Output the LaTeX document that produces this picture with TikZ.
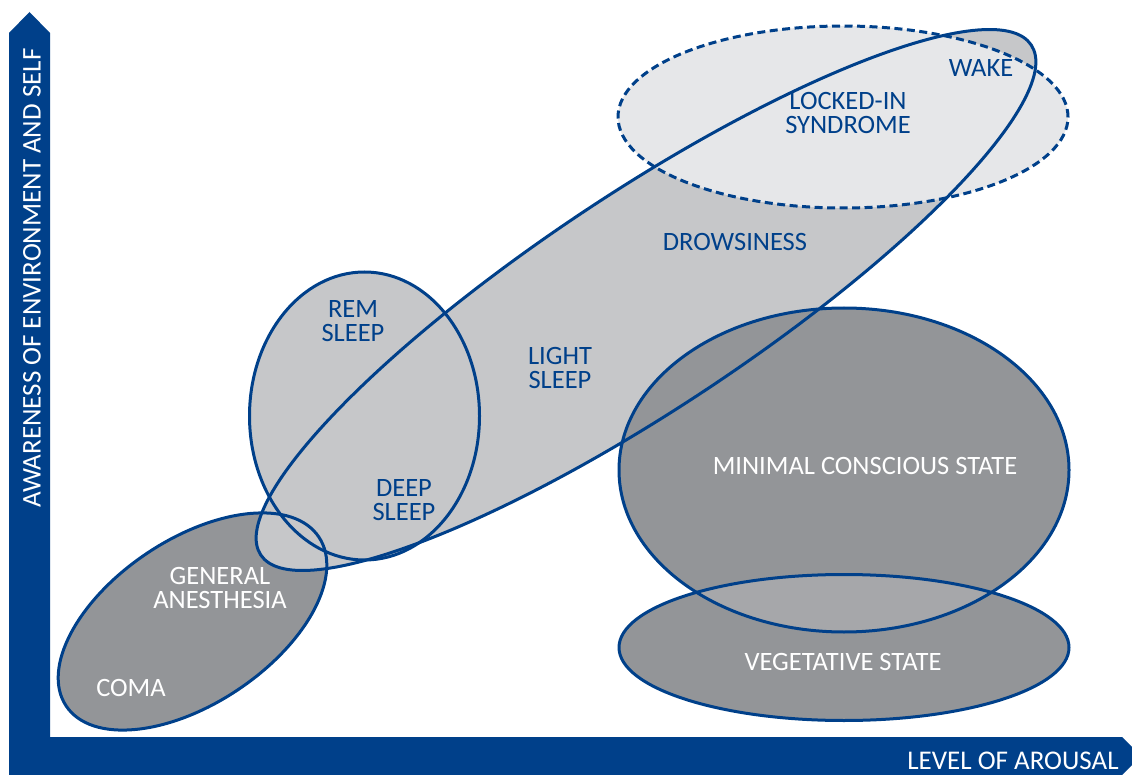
\documentclass[tikz,border=0pt]{standalone}
\usepackage{fontspec}
\setmainfont{Carlito}
\definecolor{navy}{HTML}{00408A}
\definecolor{lightfill}{HTML}{C6C7C9}
\definecolor{palefill}{HTML}{E6E7E9}
\definecolor{darkfill}{HTML}{939598}
\definecolor{midfill}{HTML}{A6A7AA}
\tikzset{
  outline/.style={draw=navy, line width=3pt},
  dashline/.style={draw=navy, line width=3pt, dash pattern=on 8pt off 4.5pt},
  lbl/.style={text=navy, align=center, font=\fontsize{26.5}{24}\selectfont, inner sep=0pt},
  wlbl/.style={text=white, align=center, font=\fontsize{26.5}{24}\selectfont, inner sep=0pt},
  axlbl/.style={text=white, font=\fontsize{27}{24}\selectfont, inner sep=0pt}
}
\begin{document}
\begin{tikzpicture}[x=1pt, y=-1pt]
\useasboundingbox (0,0) rectangle (1132,775);
% axes
\fill[navy] (9,775) -- (9,33) -- (29.5,12) -- (50,33) -- (50,737) -- (1122,737) -- (1141,756) -- (1122,775) -- cycle;
% shapes: fills
\def\gashape{(192.5,621.5) ellipse [x radius=152pt, y radius=82pt, rotate=33.8]}
\def\sleepshape{(646,300) ellipse [x radius=462pt, y radius=108pt, rotate=33.5]}
\def\remshape{(364.5,416) ellipse [x radius=115pt, y radius=144pt]}
\def\lockshape{(843,117) ellipse [x radius=225pt, y radius=91pt]}
\def\mcsshape{(844,470) ellipse [x radius=225pt, y radius=162pt]}
\def\vsshape{(844,647.5) ellipse [x radius=225pt, y radius=73pt]}
\fill[darkfill] \gashape;
\fill[lightfill] \sleepshape;
\fill[lightfill] \remshape;
\fill[palefill] \lockshape;
\fill[darkfill] \mcsshape;
\fill[darkfill] \vsshape;
\begin{scope}
  \clip \mcsshape;
  \fill[midfill] \vsshape;
\end{scope}
% outlines
\path[outline] \gashape;
\path[outline] \sleepshape;
\path[outline] \remshape;
\path[dashline] \lockshape;
\path[outline] \mcsshape;
\path[outline] \vsshape;
% labels
\node[lbl] (wake) at (981,68) {WAKE};
\node[lbl] (lock) at (848,113) {LOCKED-IN\\SYNDROME};
\node[lbl] (drow) at (735,242) {DROWSINESS};
\node[lbl] (rem) at (353,321) {REM\\SLEEP};
\node[lbl] (light) at (560,368) {LIGHT\\SLEEP};
\node[lbl] (deep) at (404,500) {DEEP\\SLEEP};
\node[wlbl] (ga) at (220,588) {GENERAL\\ANESTHESIA};
\node[wlbl] (coma) at (131,688) {COMA};
\node[wlbl] (mcs) at (865,466) {MINIMAL CONSCIOUS STATE};
\node[wlbl] (vs) at (843,662) {VEGETATIVE STATE};
\node[axlbl, rotate=90] (yl) at (32,278) {AWARENESS OF ENVIRONMENT AND SELF};
\node[axlbl, anchor=base, text depth=0pt] (xl) at (1013,769) {LEVEL OF AROUSAL};
\end{tikzpicture}
\end{document}
